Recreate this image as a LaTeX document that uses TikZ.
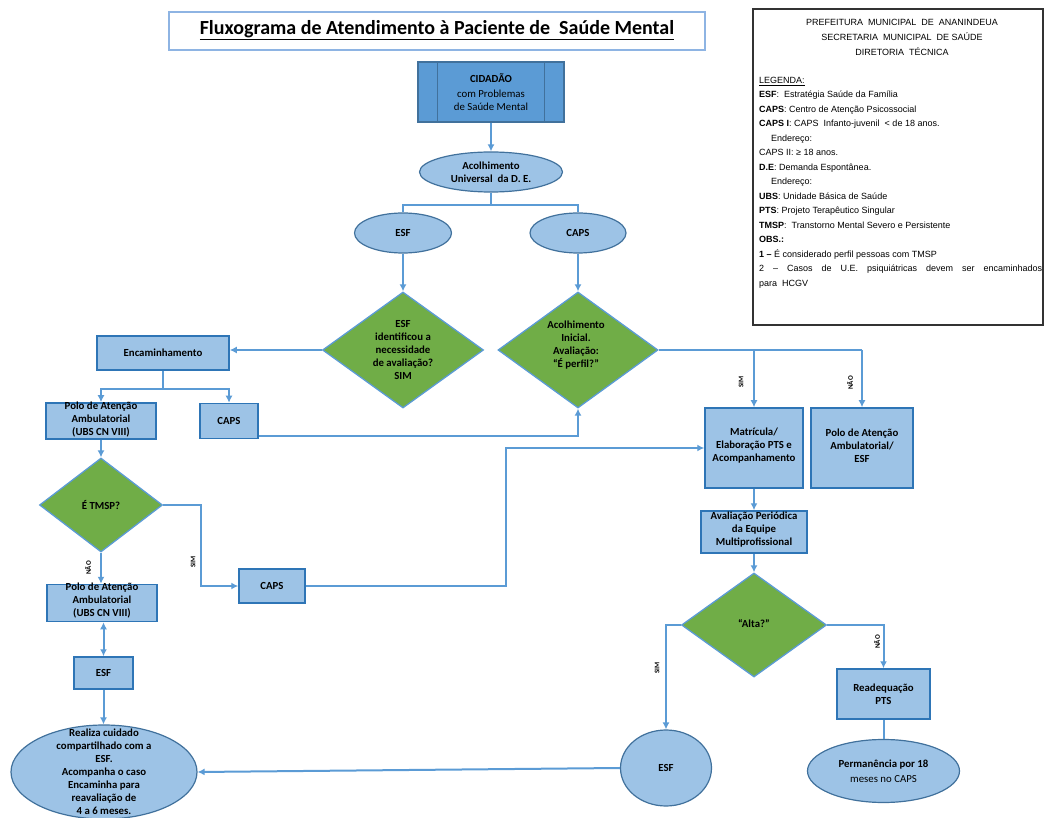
\documentclass[tikz,border=0pt]{standalone}
\usepackage{fontspec}
\setmainfont{Carlito}
\newfontfamily\legfont{Liberation Sans}
\usetikzlibrary{shapes.geometric,arrows.meta,calc}
\definecolor{lineblue}{HTML}{5B9BD5}
\definecolor{boxfill}{HTML}{9DC3E6}
\definecolor{boxedge}{HTML}{2E75B6}
\definecolor{elledge}{HTML}{41719C}
\definecolor{cidfill}{HTML}{5B9BD5}
\definecolor{diafill}{HTML}{70AD47}
\definecolor{titleedge}{HTML}{8EB4E3}
\begin{document}
\begin{tikzpicture}[x=1pt,y=-1pt,
  txt/.style={font=\fontsize{10.8}{13}\selectfont\bfseries, align=center, text=black, inner sep=0pt},
  procbox/.style={rectangle, draw=boxedge, fill=boxfill, line width=1.5pt, inner sep=0pt},
  ell/.style={ellipse, draw=elledge, fill=boxfill, line width=1.2pt, inner sep=0pt},
  dia/.style={diamond, draw=lineblue, fill=diafill, line width=1.3pt, inner sep=0pt},
  conn/.style={draw=lineblue, line width=2pt},
  arr/.style={conn, -{Latex[length=7pt,width=7pt]}},
  darr/.style={conn, {Latex[length=7pt,width=7pt]}-{Latex[length=7pt,width=7pt]}},
  lbl/.style={font=\fontsize{7}{7}\selectfont\bfseries, rotate=90, inner sep=0pt},
  legtxt/.style={font=\legfont\fontsize{9}{14.5}\selectfont, inner sep=0pt}
]
\useasboundingbox (0,0) rectangle (1045,818);

% title
\node[rectangle, draw=titleedge, fill=white, line width=1.5pt, minimum width=536pt, minimum height=38pt] (title) at (437,31) {};
\node[font=\fontsize{20}{22}\selectfont\bfseries, inner sep=0pt] (titlet) at (437,30) {\underline{Fluxograma de Atendimento à Paciente de\ \ Saúde Mental}};

% legend
\node[rectangle, draw=black!80, line width=1.5pt, minimum width=290pt, minimum height=316pt] (legbox) at (898,167) {};
\node[legtxt, align=center, font=\legfont\fontsize{9}{15}\selectfont] (leghead) at (902,37) {PREFEITURA\ \ MUNICIPAL\ \ DE\ \ ANANINDEUA\\SECRETARIA\ \ MUNICIPAL\ \ DE SAÚDE\\DIRETORIA\ \ TÉCNICA};
\node[legtxt, align=left, anchor=north west] (legbody) at (759,77) {\underline{LEGENDA:}\\
\textbf{ESF}:\ \ Estratégia Saúde da Família\\
\textbf{CAPS}:\ Centro de Atenção Psicossocial\\
\textbf{CAPS I}: CAPS\ \ Infanto-juvenil\ \ < de 18 anos.\\
\hspace*{12pt}Endereço:\\
CAPS II: ≥ 18 anos.\\
\textbf{D.E}: Demanda Espontânea.\\
\hspace*{12pt}Endereço:\\
\textbf{UBS}: Unidade Básica de Saúde\\
\textbf{PTS}: Projeto Terapêutico Singular\\
\textbf{TMSP}:\ \ Transtorno Mental Severo e Persistente\\
\textbf{OBS.:}\\
\textbf{1 –} É considerado perfil pessoas com TMSP\\
\makebox[283pt][s]{2 – Casos de U.E. psiquiátricas devem ser encaminhados}\\
para\ \ HCGV};

% shapes
\node[rectangle, draw=elledge, fill=cidfill, line width=1.5pt, minimum width=146pt, minimum height=60pt] (cid) at (491,92) {};
\draw[draw=elledge, line width=1.3pt] ($(cid.north west)+(20,0)$) -- ($(cid.south west)+(20,0)$);
\draw[draw=elledge, line width=1.3pt] ($(cid.north east)+(-20,0)$) -- ($(cid.south east)+(-20,0)$);
\node[txt] (cidt) at (491,92) {CIDADÃO\\[2pt]{\mdseries com Problemas}\\{\mdseries de Saúde Mental}};

\node[ell, minimum width=143pt, minimum height=40pt] (acol) at (491,172) {};
\node[txt] (acolt) at (acol) {Acolhimento\\Universal\ \ da D. E.};

\node[ell, minimum width=97pt, minimum height=40pt] (esf1) at (403,233) {};
\node[txt] (esf1t) at (esf1) {ESF};
\node[ell, minimum width=96pt, minimum height=40pt] (caps1) at (578,233) {};
\node[txt] (caps1t) at (caps1) {CAPS};

\node[dia, minimum width=161pt, minimum height=116pt] (d1) at (403,350) {};
\node[txt] (d1t) at (d1) {ESF\\identificou a\\necessidade\\de avaliação?\\SIM};
\node[dia, minimum width=160pt, minimum height=116pt] (d2) at (578,350) {};
\node[txt] (d2t) at (576,345) {Acolhimento\\Inicial.\\Avaliação:\\“É perfil?”};

\node[procbox, minimum width=132pt, minimum height=34pt] (enc) at (163,353) {};
\node[txt] (enct) at (enc) {Encaminhamento};

\node[procbox, minimum width=110pt, minimum height=36pt] (polo1) at (101,421) {};
\node[txt] (polo1t) at (101,420) {Polo de Atenção\\Ambulatorial\\(UBS CN VIII)};
\node[procbox, minimum width=58pt, minimum height=35pt] (caps2) at (229,421) {};
\node[txt] (caps2t) at (caps2) {CAPS};

\node[dia, minimum width=123pt, minimum height=94pt] (d3) at (101,505) {};
\node[txt] (d3t) at (d3) {É TMSP?};

\node[procbox, minimum width=110pt, minimum height=37pt] (polo2) at (102,603) {};
\node[txt] (polo2t) at (102,601) {Polo de Atenção\\Ambulatorial\\(UBS CN VIII)};

\node[procbox, minimum width=59pt, minimum height=32pt] (esf2) at (103.5,673) {};
\node[txt] (esf2t) at (esf2) {ESF};

\node[ell, minimum width=186pt, minimum height=94pt] (big) at (104,772) {};
\node[txt] (bigt) at (104,772) {Realiza cuidado\\compartilhado com a\\ESF.\\Acompanha o caso\\Encaminha para\\reavaliação de\\4 a 6 meses.};

\node[procbox, minimum width=66pt, minimum height=34pt] (caps3) at (272,586) {};
\node[txt] (caps3t) at (caps3) {CAPS};

\node[procbox, minimum width=98pt, minimum height=80pt] (matric) at (754,448) {};
\node[txt] (matrict) at (754,446) {Matrícula/\\Elaboração PTS e\\Acompanhamento};
\node[procbox, minimum width=102pt, minimum height=80pt] (polor) at (862,448) {};
\node[txt] (polort) at (862,446) {Polo de Atenção\\Ambulatorial/\\ESF};

\node[procbox, minimum width=106pt, minimum height=42pt] (aval) at (754,532) {};
\node[txt] (avalt) at (754,530) {Avaliação Periódica\\da Equipe\\Multiprofissional};

\node[dia, minimum width=145pt, minimum height=104pt] (d4) at (754,625) {};
\node[txt] (d4t) at (754,624) {“Alta?”};

\node[ell, minimum width=91pt, minimum height=76pt] (esf3) at (666,768) {};
\node[txt] (esf3t) at (esf3) {ESF};

\node[procbox, minimum width=93pt, minimum height=50pt] (readq) at (883.5,694) {};
\node[txt] (readqt) at (readq) {Readequação\\PTS};

\node[ell, minimum width=152pt, minimum height=63pt] (perm) at (883.5,771) {};
\node[txt, font=\fontsize{10.8}{15}\selectfont\bfseries] (permt) at (perm) {Permanência por 18\\{\mdseries meses no CAPS}};

% connectors
\draw[arr] (cid.south) -- (acol.north);
\coordinate (br) at (491,205);
\draw[conn] (acol.south) -- (br);
\draw[conn] (br) -| (esf1.north);
\draw[conn] (br) -| (caps1.north);
\draw[arr] (esf1.south) -- (d1.north);
\draw[arr] (caps1.south) -- (d2.north);
\draw[arr] (d1.west) -- (d1.west -| enc.east);
\draw[conn] (enc.south) -- ++(0,18) coordinate (eb);
\draw[arr] (eb) -| (polo1.north);
\draw[arr] (eb) -| (caps2.north);
\draw[arr] ($(caps2.south east)+(0,-3)$) -| (d2.south);
\draw[arr] (polo1.south) -- (d3.north);
\draw[arr] (d3.south) -- (d3.south |- polo2.north);
\draw[arr] (d3.east) -| ($(caps3.west)+(-37,0)$) -- (caps3.west);
\draw[arr] (caps3.east) -- ++(200,0) |- (matric.west);
\draw[conn] (d2.east) -- (d2.east -| polor.north);
\draw[arr] (d2.east -| matric.north) -- (matric.north);
\draw[arr] (d2.east -| polor.north) -- (polor.north);
\draw[arr] (matric.south) -- (aval.north);
\draw[arr] (aval.south) -- (d4.north);
\draw[arr] (d4.west) -| (esf3.north);
\draw[arr] (d4.east) -| (readq.north);
\draw[conn] (readq.south) -- (perm.north);
\draw[arr] (esf3.west) -- (big.east);
\draw[darr] (polo2.south -| esf2.north) -- (esf2.north);
\draw[arr] (esf2.south) -- (esf2.south |- big.north);

% branch labels
\node[lbl] (l1) at (193,562) {SIM};
\node[lbl] (l2) at (88,568) {NÃO};
\node[lbl] (l3) at (741,382) {SIM};
\node[lbl] (l4) at (850,383) {NÃO};
\node[lbl] (l5) at (657,668) {SIM};
\node[lbl] (l6) at (877,642) {NÃO};
\end{tikzpicture}
\end{document}
